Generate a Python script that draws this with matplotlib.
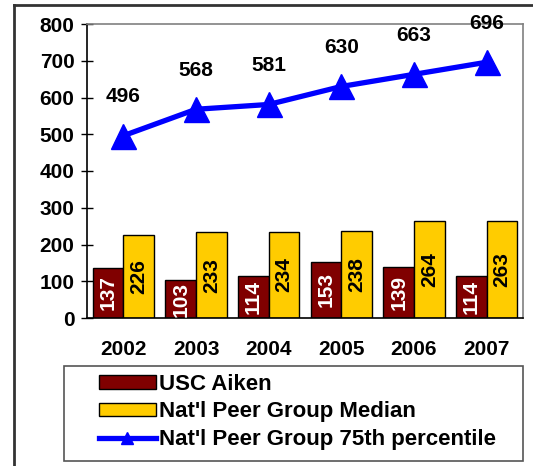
import matplotlib
matplotlib.use("Agg")
import matplotlib.pyplot as plt
from matplotlib.lines import Line2D
from matplotlib.patches import Patch, Rectangle
import numpy as np

plt.rcParams['font.family'] = ['Liberation Sans', 'DejaVu Sans']
plt.rcParams['font.weight'] = 'bold'

years = ['2002', '2003', '2004', '2005', '2006', '2007']
usc_aiken = [137, 103, 114, 153, 139, 114]
peer_median = [226, 233, 234, 238, 264, 263]
peer_75th = [496, 568, 581, 630, 663, 696]

MAROON = '#800000'
GOLD = '#FFCC00'
BLUE = '#0000FF'
FS = 15

fig = plt.figure(figsize=(5.33, 4.66), dpi=100)
ax = fig.add_axes([87/533, 1 - 318/466, (523 - 87)/533, (318 - 24)/466])

x = np.arange(len(years))
w = 0.42
b1 = ax.bar(x - w/2, usc_aiken, w, color=MAROON, edgecolor='black', linewidth=1, zorder=2)
b2 = ax.bar(x + w/2, peer_median, w, color=GOLD, edgecolor='black', linewidth=1, zorder=2)

for rect, v in zip(b1, usc_aiken):
    ax.text(rect.get_x() + rect.get_width()/2, v/2, str(v), rotation=90,
            ha='center', va='center', color='white', fontsize=FS, fontweight='bold', zorder=3)
for rect, v in zip(b2, peer_median):
    ax.text(rect.get_x() + rect.get_width()/2, v/2, str(v), rotation=90,
            ha='center', va='center', color='black', fontsize=FS, fontweight='bold', zorder=3)

ax.plot(x, peer_75th, color=BLUE, linewidth=3.8, marker='^', markersize=18,
        markeredgecolor=BLUE, zorder=4, clip_on=False)
for xi, v in zip(x, peer_75th):
    ax.annotate(str(v), (xi, v), xytext=(0, 28), textcoords='offset points',
                ha='center', va='center', fontsize=FS, fontweight='bold', zorder=5)

ax.set_xlim(-0.5, len(years) - 0.5)
ax.set_ylim(0, 800)
ax.set_yticks(range(0, 801, 100))
ax.set_xticks(x)
ax.set_xticklabels(years)
ax.tick_params(axis='y', direction='inout', length=8, width=1, labelsize=FS, pad=5)
ax.tick_params(axis='x', length=0, labelsize=FS, pad=16)
for lab in ax.get_xticklabels() + ax.get_yticklabels():
    lab.set_fontweight('bold')

ax.spines['left'].set_color('black')
ax.spines['bottom'].set_color('black')
ax.spines['top'].set_color('#808080')
ax.spines['right'].set_color('#808080')
for s in ax.spines.values():
    s.set_linewidth(1.2)

# legend frame and entries
fig.patches.append(Rectangle((64/533, 1 - 461/466), (523 - 64)/533, (461 - 366)/466,
                             transform=fig.transFigure, fill=False, edgecolor='#555555',
                             linewidth=1.2))
handles = [
    Patch(facecolor=MAROON, edgecolor='black', linewidth=1),
    Patch(facecolor=GOLD, edgecolor='black', linewidth=1),
    Line2D([], [], color=BLUE, linewidth=3.8, marker='^', markersize=9),
]
labels = ['USC Aiken', "Nat'l Peer Group Median", "Nat'l Peer Group 75th percentile"]
fig.legend(handles, labels, loc='center left', bbox_to_anchor=(99/533, 1 - 412/466),
           frameon=False, borderpad=0, borderaxespad=0, handlelength=2.55,
           handleheight=0.55, handletextpad=0.15, labelspacing=0.3,
           prop={'size': 16, 'weight': 'bold'})

# outer border
fig.add_artist(Line2D([14/533, 14/533], [0, 1 - 5/466], transform=fig.transFigure,
                      color='#333333', linewidth=2))
fig.add_artist(Line2D([14/533, 1], [1 - 5/466, 1 - 5/466], transform=fig.transFigure,
                      color='#333333', linewidth=2))

fig.savefig('out.png', dpi=100)
